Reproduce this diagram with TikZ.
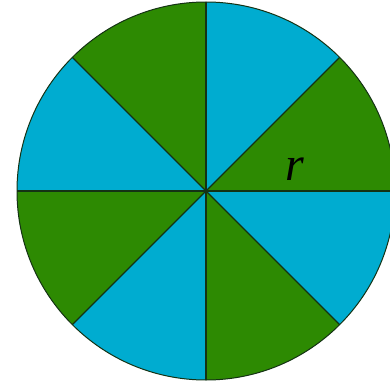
\documentclass[tikz,border=0pt]{standalone}
\usepackage{fontspec}
\setmainfont{Liberation Serif}
\definecolor{gr}{RGB}{45,138,2}
\definecolor{bl}{RGB}{0,172,208}
\definecolor{ln}{RGB}{20,50,20}
\tikzset{sector/.style={line width=1.4pt, draw=ln, line join=round}}
\begin{document}
\begin{tikzpicture}[x=1pt,y=-1pt]
\useasboundingbox (0,0) rectangle (390,382);
\clip (0,0) rectangle (390,382);
\coordinate (c) at (206,191);
\foreach \a/\col in {0/gr,45/bl,90/gr,135/bl,180/gr,225/bl,270/gr,315/bl}{
  \fill[\col] (c) -- ++(-\a:189) arc[start angle=-\a, end angle=-\a-45, radius=189] -- cycle;
}
\foreach \a in {0,45,...,315}{
  \draw[sector] (c) -- ++(\a:189);
}
\draw[line width=1pt, draw=ln] (c) circle[radius=189];
\node[font=\fontsize{48}{48}\selectfont\itshape, text=black] (r) at (295,169) {r};
\end{tikzpicture}
\end{document}
